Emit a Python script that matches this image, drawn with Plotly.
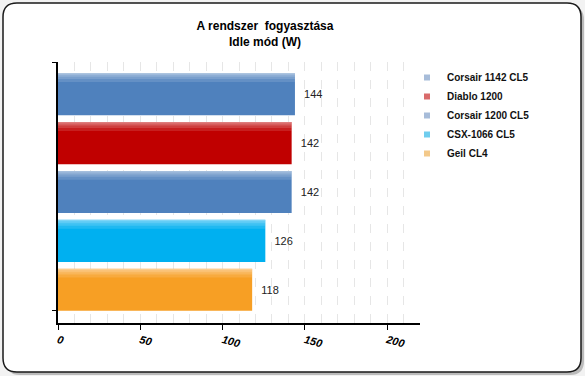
import plotly.graph_objects as go

categories = ["Corsair 1142 CL5", "Diablo 1200", "Corsair 1200 CL5", "CSX-1066 CL5", "Geil CL4"]
values = [144, 142, 142, 126, 118]
colors = ["#4F81BD", "#C00000", "#4F81BD", "#00B0F0", "#F79F24"]
legend_colors = ["#A7BCD9", "#D96B6B", "#A7BCD9", "#6FCDEE", "#F3C98A"]
x_ticks = [0, 50, 100, 150, 200]

W, H = 585, 376
L, R, T, B = 58, 420, 62, 323


def px2paper(x, y):
    return (x - L) / (R - L), (B - y) / (B - T)


def rounded_rect(x0, y0, x1, y1, r):
    def P(x, y):
        a, b = px2paper(x, y)
        return f"{a:.5f},{b:.5f}"
    path = f"M {P(x0 + r, y0)} L {P(x1 - r, y0)} Q {P(x1, y0)} {P(x1, y0 + r)} "
    path += f"L {P(x1, y1 - r)} Q {P(x1, y1)} {P(x1 - r, y1)} "
    path += f"L {P(x0 + r, y1)} Q {P(x0, y1)} {P(x0, y1 - r)} "
    path += f"L {P(x0, y0 + r)} Q {P(x0, y0)} {P(x0 + r, y0)} Z"
    return path


BW = 0.86
fig = go.Figure()
for cat, val, col in zip(categories, values, colors):
    fig.add_trace(go.Bar(
        y=[cat], x=[val], orientation="h", name=cat, showlegend=False,
        marker=dict(color=col, line=dict(width=0)),
        width=BW,
        text=[f"  {val}"], textposition="outside",
        textfont=dict(family="Liberation Sans, Arial", size=11, color="#222"),
        cliponaxis=False, hoverinfo="x+name",
    ))
    # soft highlight along the top edge (same data, decorative)
    for w, op in [(0.18, 0.12), (0.12, 0.14), (0.07, 0.16), (0.03, 0.2)]:
        fig.add_trace(go.Bar(
            y=[cat], x=[val], orientation="h", showlegend=False, hoverinfo="skip",
            marker=dict(color=f"rgba(255,255,255,{op})", line=dict(width=0)),
            width=w, offset=-BW / 2,
        ))

for cat, lcol in zip(categories, legend_colors):
    fig.add_trace(go.Scatter(
        x=[None], y=[None], mode="markers", name=cat, showlegend=True,
        marker=dict(symbol="square", size=6, color=lcol),
    ))

fig.update_layout(
    width=W, height=H,
    margin=dict(l=L, r=W - R, t=T, b=H - B),
    paper_bgcolor="#F2F2F2",
    plot_bgcolor="rgba(0,0,0,0)",
    barmode="overlay",
    showlegend=True,
    legend=dict(
        x=px2paper(407, 0)[0], y=px2paper(0, 63)[1], xanchor="left", yanchor="top",
        font=dict(family="Liberation Sans, Arial", size=10, color="#111", weight="bold"),
        itemwidth=30, bgcolor="rgba(0,0,0,0)",
    ),
    title=dict(
        text="A rendszer  fogyasztása<br>Idle mód (W)",
        x=265 / W, xref="container", xanchor="center",
        y=1 - 30 / H, yref="container", yanchor="top",
        font=dict(family="Liberation Sans, Arial", size=12, color="#000", weight="bold"),
    ),
    xaxis=dict(
        range=[0, 220], tickvals=x_ticks, ticktext=[str(v) for v in x_ticks],
        showline=True, linecolor="#000", linewidth=1.5,
        ticks="outside", ticklen=5, tickcolor="#000",
        tickangle=15,
        tickfont=dict(family="Liberation Sans, Arial", size=11, color="#000", weight="bold", style="italic"),
        showgrid=True, gridcolor="#E6E6E6", griddash="dash", gridwidth=1,
        minor=dict(dtick=10, tick0=0, showgrid=True, gridcolor="#E6E6E6", griddash="dash", ticks=""),
        zeroline=False, fixedrange=True,
    ),
    yaxis=dict(
        type="category",
        categoryorder="array", categoryarray=categories,
        range=[4.68, -0.66],
        tickmode="array", tickvals=[-0.66, 4.42], ticktext=["", ""],
        showticklabels=False, showline=True, linecolor="#000", linewidth=1.5,
        ticks="outside", ticklen=4, tickcolor="#000",
        showgrid=False, zeroline=False, fixedrange=True,
    ),
    shapes=[
        dict(type="path", xref="paper", yref="paper", path=rounded_rect(6, 6, 584, 375, 14),
             fillcolor="#BBBBBB", line=dict(width=0), layer="below"),
        dict(type="path", xref="paper", yref="paper", path=rounded_rect(3, 3, 581, 372, 14),
             fillcolor="#FFFFFF", line=dict(color="#1A1A1A", width=1.5), layer="below"),
    ],
)

fig.write_html("out.html", config={"displayModeBar": False},
               post_script="document.body.style.margin='0';")
